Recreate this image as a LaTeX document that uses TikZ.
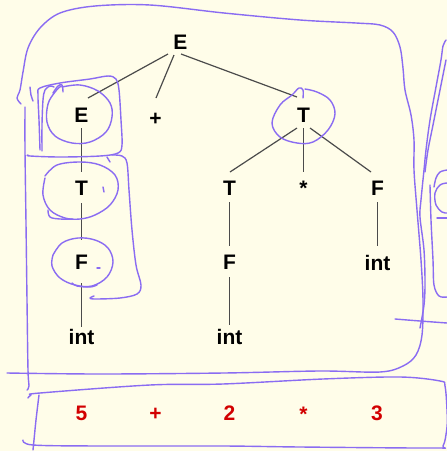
\documentclass[tikz,border=0pt]{standalone}
\usepackage{fontspec}
\setmainfont{Liberation Sans}
\usetikzlibrary{calc}
\definecolor{bg}{RGB}{255,253,233}
\definecolor{pen}{RGB}{138,108,242}
\definecolor{edgegray}{RGB}{75,75,75}
\definecolor{tokred}{RGB}{210,0,0}
\begin{document}
\begin{tikzpicture}[x=1pt,y=-1pt,
  tn/.style={font=\fontsize{21}{25}\selectfont\bfseries, inner sep=0pt, text height=15pt, text depth=0pt},
  tok/.style={tn, text=tokred},
  edge/.style={draw=edgegray, line width=1.2pt},
  ink/.style={draw=pen, line width=1.4pt, line cap=round, line join=round}]
\fill[bg] (0,0) rectangle (447,451);
\useasboundingbox (0,0) rectangle (447,451);

% tree nodes
\node[tn] (Et) at (180.5,41.5) {E};
\node[tn] (El) at (81.5,114.5) {E};
\node[tn] (pl) at (155.5,117.5) {+};
\node[tn] (Tr) at (303.5,114.5) {T};
\node[tn] (Tl) at (81.5,188) {T};
\node[tn] (Tm) at (229.5,188) {T};
\node[tn] (st) at (303.5,188) {*};
\node[tn] (Fr) at (377.5,188) {F};
\node[tn] (Fl) at (81.5,262) {F};
\node[tn] (Fm) at (229.5,262) {F};
\node[tn] (ir) at (377.5,263) {int};
\node[tn] (il) at (81.5,337) {int};
\node[tn] (im) at (229.5,337) {int};

% token line
\node[tok] (t5) at (81.5,413) {5};
\node[tok] (tp) at (155.5,412.5) {+};
\node[tok] (t2) at (229.5,413) {2};
\node[tok] (ts) at (303.5,414) {*};
\node[tok] (t3) at (377,413) {3};

% tree edges
\draw[edge] ($(Et)+(-12.5,12.5)$) -- ($(El)+(6.5,-16.5)$);
\draw[edge] ($(Et)+(-6.5,13.5)$) -- ($(pl)+(0.5,-19.5)$);
\draw[edge] ($(Et)+(0.5,12.5)$) -- ($(Tr)+(-6.5,-17.5)$);
\draw[edge] ($(El)+(0,13.5)$) -- ($(Tl)+(0,-16)$);
\draw[edge] ($(Tl)+(0,15)$) -- ($(Fl)+(0,-22)$);
\draw[edge] ($(Fl)+(0,21)$) -- ($(il)+(0,-10)$);
\draw[edge] ($(Tr)+(-6.5,13.5)$) -- ($(Tm)+(0.5,-16)$);
\draw[edge] ($(Tr)+(0,13.5)$) -- ($(st)+(0,-16)$);
\draw[edge] ($(Tr)+(6.5,13.5)$) -- ($(Fr)+(-6.5,-16)$);
\draw[edge] ($(Tm)+(0,14)$) -- ($(Fm)+(0,-16)$);
\draw[edge] ($(Fm)+(0,15)$) -- ($(im)+(0,-12)$);
\draw[edge] ($(Fr)+(0,14)$) -- ($(ir)+(0,-17)$);

% hand-drawn outer box
\draw[ink] plot[smooth, tension=0.55] coordinates {(21,104) (17,98) (20,90) (23,72) (28,48) (40,28) (60,13) (95,6) (150,5) (224,13) (300,20) (356,23) (380,25) (393,32) (400,47) (403,68) (405,90) (411,115) (414,140) (414,170) (417,210) (421,260) (423,300) (422,335) (416,355) (403,366) (380,372) (320,371) (224,373) (100,374) (7,373)};
\draw[ink] plot[smooth, tension=0.55] coordinates {(25,107) (25,150) (26,223) (27,300) (28,370) (29,386) (27,390)};

% box around E
\draw[ink] plot[smooth, tension=0.55] coordinates {(30,87) (31,95) (33,101)};
\draw[ink] plot[smooth, tension=0.55] coordinates {(40,150) (39,120) (38,95) (40,88) (60,83) (90,79) (108,76) (116,79) (119,90) (121,120) (122,145) (118,153) (100,156) (60,157) (30,156) (28,155)};
\draw[ink] plot[smooth, tension=0.55] coordinates {(42,151) (42,125) (43,100) (45,90) (50,86) (54,87)};
% ellipse around E
\draw[ink] plot[smooth, tension=0.6] coordinates {(62,87) (80,85) (98,91) (110,103) (112,117) (106,132) (90,142) (72,143) (55,136) (47,122) (48,104) (55,92) (61,86)};
\draw[ink] plot[smooth, tension=0.6] coordinates {(53,93) (58,86) (62,85) (63,92)};

% box around T and F
\draw[ink] (107,157) -- (110,162);
\draw[ink] plot[smooth, tension=0.55] coordinates {(112,155) (122,156) (127,163) (129,190) (132,230) (136,265) (141,285) (137,294) (120,298) (95,299) (90,298) (94,296)};
% ellipse around T (left)
\draw[ink] plot[smooth, tension=0.6] coordinates {(45,176) (57,165) (80,162) (100,165) (115,175) (118,190) (110,205) (95,215) (80,219) (65,218) (50,210) (43,195) (45,178)};
\draw[ink] plot[smooth, tension=0.6] coordinates {(48,210) (50,217) (60,219) (73,219)};
\draw[ink] (103,187) -- (104,192);
% ellipse around F (left)
\draw[ink] plot[smooth, tension=0.6] coordinates {(53,255) (62,243) (78,238) (95,240) (108,248) (113,262) (107,277) (92,286) (75,285) (60,278) (52,266) (53,255)};
\draw[ink] plot[smooth, tension=0.6] coordinates {(72,283) (77,286) (90,287) (97,285)};
\draw[ink] (97,268) -- (100,268);

% ellipse around T (right)
\draw[ink] plot[smooth, tension=0.6] coordinates {(303,98) (303,90) (299,88) (292,95) (280,105) (272,123) (280,137) (297,143) (313,142) (328,130) (335,114) (330,100) (317,92) (305,89)};

% right edge strokes
\draw[ink] plot[smooth, tension=0.55] coordinates {(446,40) (443,46) (441,60) (436,87) (430,120) (426,150) (424,170) (421,200) (420,217) (424,250) (425,283) (424,305) (420,328)};
\draw[ink] plot[smooth, tension=0.55] coordinates {(446,60) (440,90) (433,125) (428,150) (425,172)};
\draw[ink] plot[smooth, tension=0.55] coordinates {(447,170) (440,172) (436,178) (434,187)};
\draw[ink] plot[smooth, tension=0.6] coordinates {(447,183) (440,185) (435,193) (436,205) (442,212) (447,213)};
\draw[ink] (437,218) -- (447,218);
\draw[ink] plot[smooth, tension=0.55] coordinates {(430,185) (431,220) (433,260) (434,285) (439,296) (447,297)};
\draw[ink] plot[smooth, tension=0.55] coordinates {(395,319) (420,321) (447,323)};

% box around token line
\draw[ink] plot[smooth, tension=0.55] coordinates {(28,398) (31,395) (40,393) (150,385) (223,384) (323,379) (400,377) (440,381) (445,386) (447,410) (447,427) (443,446) (433,448) (300,447) (223,446) (100,446) (33,445) (23,440)};
\draw[ink] plot[smooth, tension=0.55] coordinates {(39,395) (36,420) (34,440) (33,450)};
\end{tikzpicture}
\end{document}
